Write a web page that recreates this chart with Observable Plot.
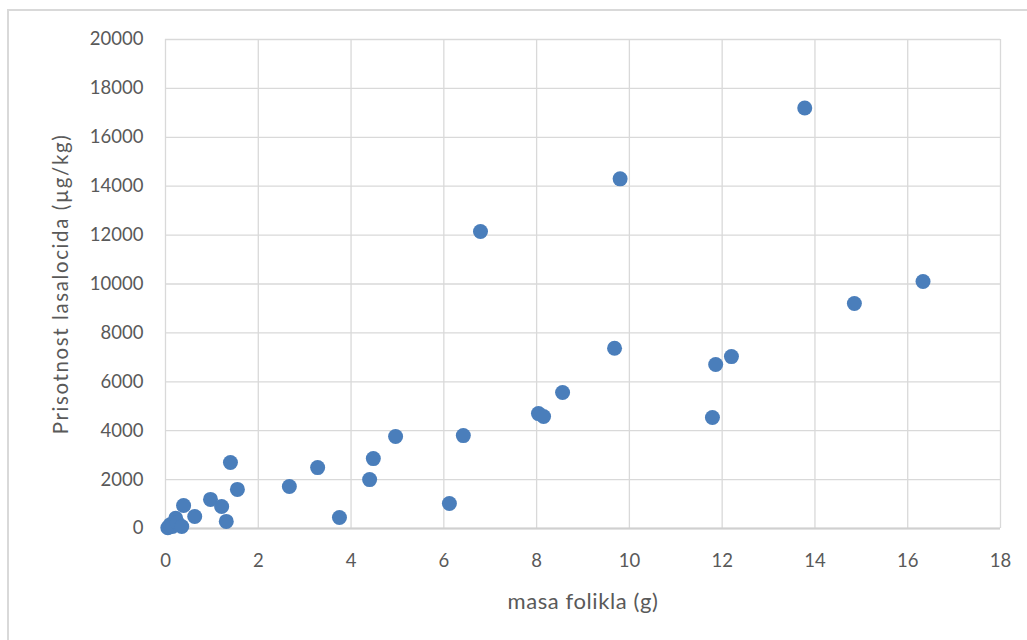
<!DOCTYPE html>
<html>
<head>
<meta charset="utf-8">
<script src="https://cdn.jsdelivr.net/npm/d3@7"></script>
<script src="https://cdn.jsdelivr.net/npm/@observablehq/plot@0.6"></script>
<style>
  html, body { margin: 0; padding: 0; background: #fff; overflow: hidden; }
  #frame { position: absolute; left: 7px; top: 9px; width: 1100px; height: 700px; border-top: 2px solid #d9d9d9; border-left: 2px solid #d9d9d9; box-sizing: border-box; }
  #chart { position: absolute; left: 0; top: 0; }
  #chart [aria-label="x-axis label"] text { font-size: 22px; letter-spacing: 0.6px; }
  #chart [aria-label="y-axis label"] text { font-size: 20.5px; letter-spacing: 1.6px; }
</style>
</head>
<body>
<div id="frame"></div>
<div id="chart"></div>
<script>
const masa = [13.78, 9.80, 6.79, 16.33, 14.85, 9.68, 12.20, 11.86, 8.56, 8.04, 8.15, 11.79,
  6.42, 4.96, 4.48, 3.28, 4.40, 1.40, 2.67, 1.55, 6.12, 3.75,
  0.97, 1.21, 1.31, 0.63, 0.39, 0.05, 0.10, 0.15, 0.22, 0.25, 0.35];
const lasalocid = [17200, 14300, 12150, 10100, 9200, 7370, 7030, 6710, 5560, 4700, 4580, 4540,
  3800, 3760, 2860, 2490, 2000, 2700, 1720, 1600, 1020, 450,
  1190, 900, 290, 490, 940, 30, 150, 80, 420, 250, 80];
const xTicks = [0, 2, 4, 6, 8, 10, 12, 14, 16, 18];
const yTicks = [0, 2000, 4000, 6000, 8000, 10000, 12000, 14000, 16000, 18000, 20000];

const data = masa.map((m, i) => ({masa: m, las: lasalocid[i]}));

const chart = Plot.plot({
  width: 1027,
  height: 640,
  marginLeft: 165,
  marginRight: 27,
  marginTop: 39,
  marginBottom: 112,
  style: {fontFamily: "Lato, sans-serif", fontSize: "18px", color: "#595959", background: "transparent"},
  x: {domain: [0, 18]},
  y: {domain: [0, 20000]},
  marks: [
    Plot.gridX(xTicks, {stroke: "#d9d9d9", strokeOpacity: 1, strokeWidth: 1.3}),
    Plot.gridY(yTicks, {stroke: "#d9d9d9", strokeOpacity: 1, strokeWidth: 1.3}),
    Plot.ruleY([0], {stroke: "#d0d0d0", strokeWidth: 2}),
    Plot.axisX(xTicks, {tickSize: 0, tickPadding: 25, fill: "#595959", fontSize: 18.5,
      label: "masa folikla (g)", labelAnchor: "center", labelArrow: "none", labelOffset: 80}),
    Plot.axisY(yTicks, {tickSize: 0, tickPadding: 22, fill: "#595959", fontSize: 18.5,
      tickFormat: d => String(d),
      label: "Prisotnost lasalocida (µg/kg)", labelAnchor: "center", labelArrow: "none", labelOffset: 112}),
    Plot.dot(data, {x: "masa", y: "las", r: 7.5, fill: "#4A7EBB", stroke: "none"})
  ]
});
document.getElementById("chart").appendChild(chart);
</script>
</body>
</html>
